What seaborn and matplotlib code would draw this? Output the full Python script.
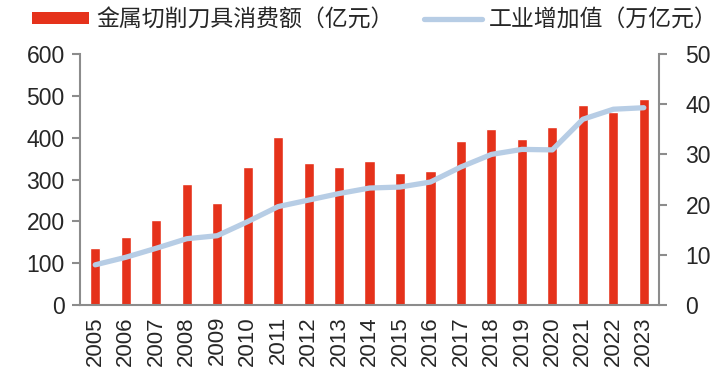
import matplotlib
matplotlib.use("Agg")
import matplotlib.pyplot as plt
import seaborn as sns
import numpy as np
import pandas as pd
from matplotlib.patches import Patch
from matplotlib.lines import Line2D

years = ['2005', '2006', '2007', '2008', '2009', '2010', '2011', '2012', '2013', '2014',
         '2015', '2016', '2017', '2018', '2019', '2020', '2021', '2022', '2023']
tool_spend = [137, 162, 202, 289, 244, 330, 401, 340, 330, 345,
              315, 320, 391, 421, 396, 426, 478, 462, 492]
industry_va = [8.0, 9.5, 11.3, 13.2, 13.8, 16.6, 19.6, 20.9, 22.2, 23.3,
               23.5, 24.5, 27.5, 30.0, 31.0, 30.9, 37.0, 39.0, 39.3]

bar_label = '金属切削刀具消费额（亿元）'
line_label = '工业增加值（万亿元）'
red = '#E5321B'
blue = '#B7CDE5'
grey = '#8C8C8C'

df = pd.DataFrame({'year': years, 'spend': tool_spend, 'va': industry_va})
df['pos'] = np.arange(len(df))

sns.set_style('white')
plt.rcParams['font.family'] = ['Liberation Sans', 'Noto Sans CJK SC', 'DejaVu Sans']

fig = plt.figure(figsize=(7.22, 3.82), dpi=100)
ax = fig.add_axes([0.1108, 0.2016, 0.802, 0.657])

sns.barplot(data=df, x='year', y='spend', color=red, width=0.33, saturation=1, ax=ax)
ax.set_ylim(0, 600)
ax.set_yticks(range(0, 601, 100))
ax.set_xlim(-0.5, len(years) - 0.5)
ax.set_xlabel('')
ax.set_ylabel('')

ax2 = ax.twinx()
sns.lineplot(data=df, x='pos', y='va', color=blue, linewidth=3.8, ax=ax2,
             solid_joinstyle='round', solid_capstyle='round')
ax2.set_ylim(0, 50)
ax2.set_yticks(range(0, 51, 10))
ax2.set_xlim(-0.5, len(years) - 0.5)
ax2.set_xlabel('')
ax2.set_ylabel('')

for a in (ax, ax2):
    a.spines['top'].set_visible(False)
    for s in ('left', 'right', 'bottom'):
        a.spines[s].set_color(grey)
        a.spines[s].set_linewidth(1.5)
ax.spines['right'].set_visible(False)
ax2.spines['left'].set_visible(False)
ax2.spines['bottom'].set_visible(False)

ax.tick_params(axis='y', direction='out', length=6, width=1.5, color=grey,
               labelsize=16.5, pad=5, left=True)
ax.tick_params(axis='x', length=0, labelsize=16, pad=8)
ax2.tick_params(axis='y', direction='out', length=6, width=1.5, color=grey,
                labelsize=16.5, pad=13, right=True)
plt.setp(ax.get_xticklabels(), rotation=90)

handles = [Patch(facecolor=red, edgecolor='none'),
           Line2D([0], [0], color=blue, linewidth=3.8)]
fig.legend(handles, [bar_label, line_label], loc='upper left', bbox_to_anchor=(0.044, 0.978),
           ncol=2, frameon=False, handlelength=2.5, handleheight=0.45,
           columnspacing=1.35, handletextpad=0.3, borderpad=0, borderaxespad=0,
           prop={'family': ['Noto Sans CJK SC', 'DejaVu Sans'], 'size': 16.5})

fig.savefig('out.png', dpi=100)
